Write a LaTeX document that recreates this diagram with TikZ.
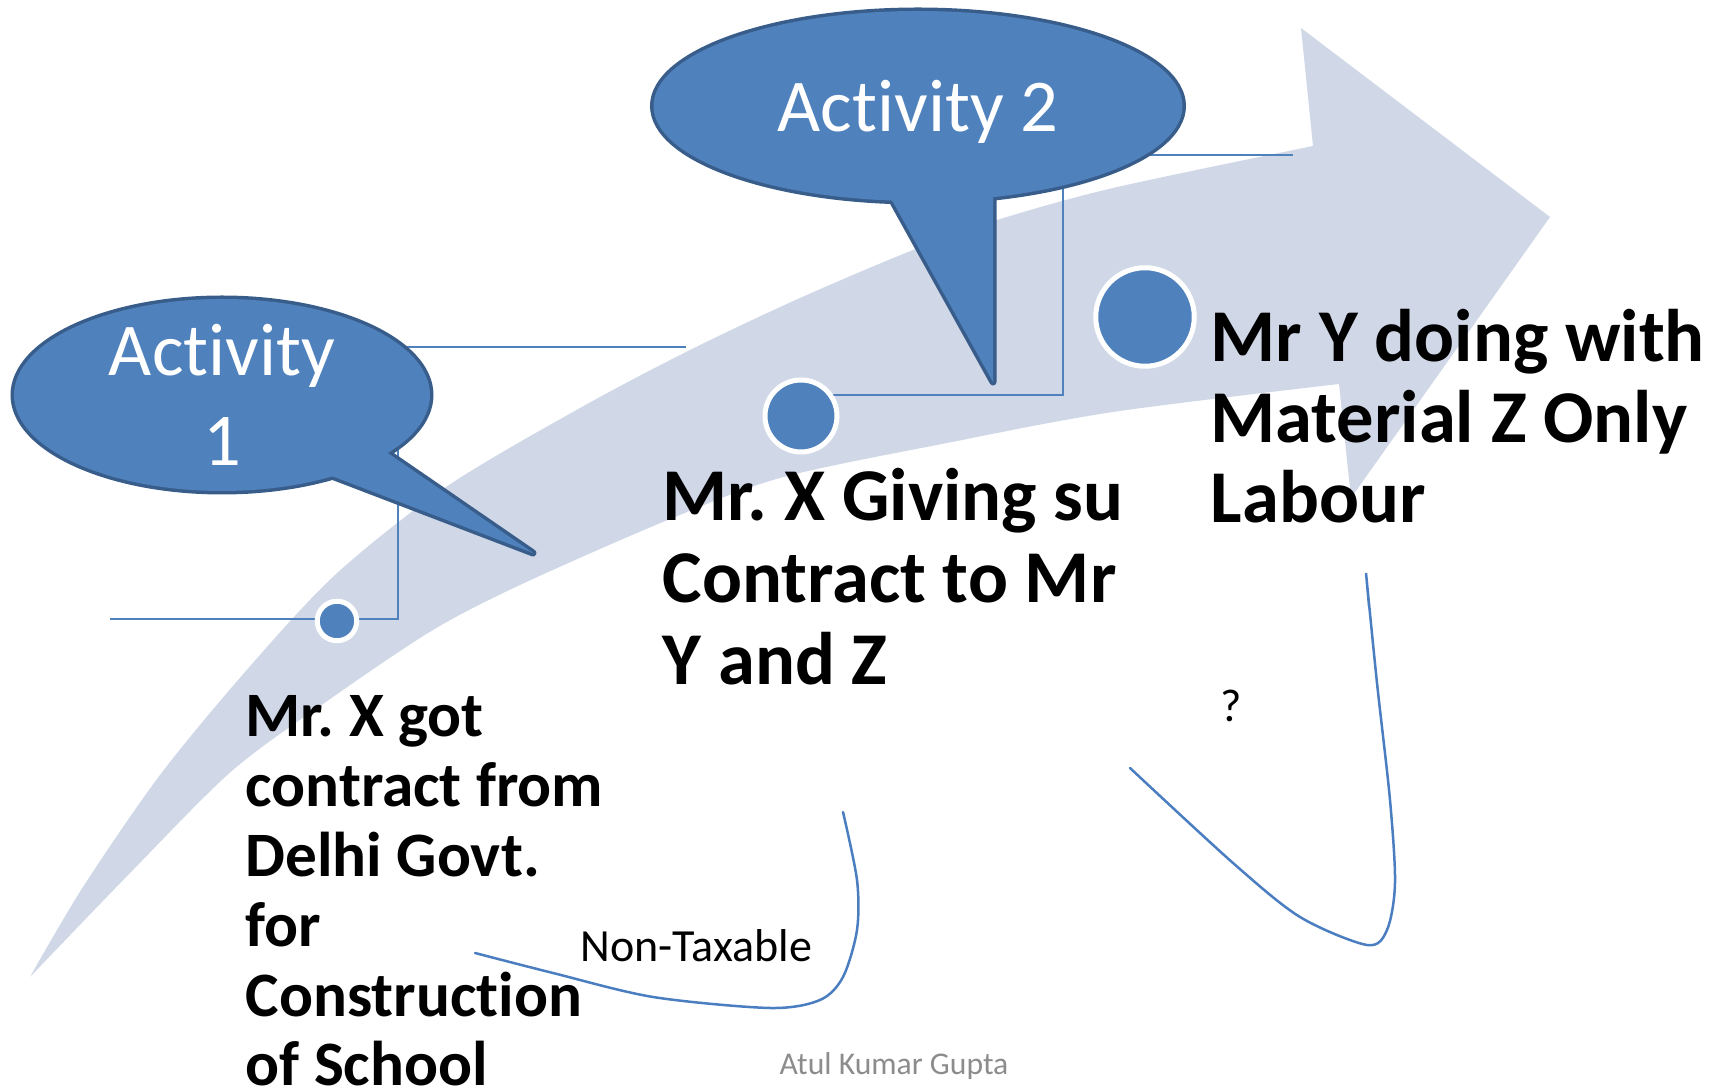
\documentclass[tikz,border=0pt]{standalone}
\usepackage{fontspec}
\setmainfont{Carlito}[Ligatures=NoCommon]
\usetikzlibrary{shapes.geometric}

\definecolor{band}{RGB}{208,216,232}
\definecolor{blu}{RGB}{79,129,189}
\definecolor{rim}{RGB}{56,93,138}
\definecolor{pen}{RGB}{74,126,192}
\definecolor{sign}{RGB}{140,140,140}

\pgfdeclarelayer{back}
\pgfdeclarelayer{links}
\pgfsetlayers{back,links,main}

\begin{document}
\frenchspacing
\begin{tikzpicture}[x=0.1mm, y=-0.1mm,
    bubble/.style = {ellipse, fill=blu, inner sep=0pt, text=white, align=center,
        font=\fontsize{21.2pt}{25.6pt}\selectfont, preaction={draw=rim, line width=0.7mm}},
    tip/.style = {draw=rim, line width=0.7mm, line join=round},
    dot/.style = {circle, fill=blu, draw=white, line width=0.5mm, inner sep=0pt},
    link/.style = {draw=blu, line width=0.2mm},
    txt/.style = {anchor=base west, align=left, inner sep=0pt},
    scrawl/.style = {draw=pen, line width=0.25mm, line cap=round}]

    \useasboundingbox (0,0) rectangle (1715,1091);

    % Arrow
    \begin{pgfonlayer}{back}
        \fill[band] plot[smooth] coordinates {(30,977) (83,887) (160,775) (245,672) (335,575)
            (446,487) (580,408) (690,350) (800,298) (913,250) (997,220) (1113,188) (1313,146)}
            -- (1301,28) -- (1550,217) -- (1351,498) -- (1339,384)
            -- plot[smooth] coordinates {(1339,384) (1113,412) (947,443) (780,478) (663,522)
            (520,585) (433,630) (333,697) (233,770) (133,870) (30,977)} -- cycle;
    \end{pgfonlayer}

    % Activity 1
    \draw[tip] (344,423) -- (533,553) -- (269,452);
    \node[bubble, minimum width=4.16cm, minimum height=1.92cm, inner ysep=-1mm] (act1) at (222,395) {Activity\\1};
    \fill[blu] (344,423) -- (533,553) -- (269,452) -- cycle;

    % Activity 2
    \draw[tip] (873,166) -- (993,382) -- (993,161);
    \node[bubble, minimum width=5.29cm, minimum height=1.9cm, text depth=0pt] (act2) at (918,106) {Activity 2};
    \fill[blu] (873,166) -- (993,382) -- (993,161) -- cycle;

    % Nodes
    \node[dot, minimum size=3.95mm] (dot1) at (337,621) {};
    \node[dot, minimum size=7.2mm] (dot2) at (801,416) {};
    \node[dot, minimum size=9.85mm] (dot3) at (1145,317) {};

    \coordinate (a1e) at (686,347);
    \coordinate (a1s) at (110,619);
    \coordinate (a1k) at (398,619);
    \coordinate (a2e) at (1293,155);
    \coordinate (a2k) at (1063,395);

    \node[txt, font=\bfseries\fontsize{18pt}{19.9pt}\selectfont] (t1) at (245,1086)
        {Mr. X got\\contract from\\Delhi Govt.\\for\\Construction\\of School};
    \node[txt, font=\bfseries\fontsize{21.2pt}{23.4pt}\selectfont] (t2) at (662,685)
        {Mr. X Giving su\\Contract to Mr\\Y and Z};
    \node[txt, font=\bfseries\fontsize{21.2pt}{23pt}\selectfont] (t3) at (1210,523)
        {Mr Y doing with\\Material Z Only\\Labour};
    \node[txt, font=\fontsize{13.1pt}{15pt}\selectfont] (tax) at (580,962) {Non-Taxable};
    \node[txt, font=\fontsize{13.1pt}{15pt}\selectfont] (ask) at (1220,722) {?};
    \node[txt, text=sign, font=\fontsize{9pt}{11pt}\selectfont] (sig) at (779,1075) {Atul Kumar Gupta};

    % Edges
    \begin{pgfonlayer}{links}
        \draw[link] (act1.center |- a1e) -- (a1e);
        \draw[link] (a1s) -- (a1k) -- (a1k |- act1.center);
        \draw[link] (act2.center |- a2e) -- (a2e);
        \draw[link] (a2k |- act2.center) -- (a2k) -- (a2k -| dot2.center);
    \end{pgfonlayer}

    % Pen marks
    \draw[scrawl] plot[smooth] coordinates {(475,953) (553,973) (653,997) (770,1008) (820,1000)
        (843,977) (857,930) (857,880) (843,812)};
    \draw[scrawl] plot[smooth] coordinates {(1130,768) (1233,863) (1300,917) (1367,945) (1387,930)
        (1395,883) (1390,800) (1377,683) (1366,573)} -- (1369,606);
\end{tikzpicture}
\end{document}
